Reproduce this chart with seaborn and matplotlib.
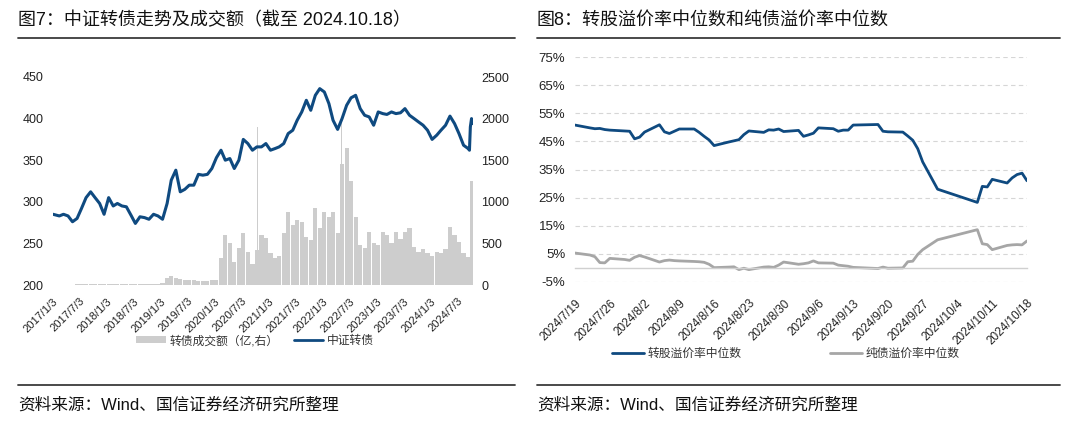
import numpy as np
import pandas as pd
import matplotlib
matplotlib.use("Agg")
import matplotlib.pyplot as plt
from matplotlib.lines import Line2D
from matplotlib.patches import Patch
import seaborn as sns

sns.set_theme(style="white")
plt.rcParams['font.family'] = ['Liberation Sans', 'Noto Sans CJK SC', 'DejaVu Sans']
plt.rcParams['axes.unicode_minus'] = False

BLUE = '#0f4a80'
GREY_LINE = '#a6a6a6'
GREY_BAR = '#cdcdcd'

# ---- 图7 data: 中证转债 (monthly readings, Jan 2017 - Sep 2024) ----
index_monthly = [
    285, 283, 285, 283, 276, 280, 292, 305, 312, 305, 298, 285,   # 2017
    305, 295, 298, 295, 294, 284, 274, 282, 281, 279, 285, 283,   # 2018
    279, 298, 326, 338, 312, 315, 320, 320, 333, 332, 333, 340,   # 2019
    353, 362, 350, 352, 340, 350, 375, 370, 362, 366, 366, 370,   # 2020
    362, 364, 366, 370, 382, 386, 398, 408, 422, 410, 428, 436,   # 2021
    432, 418, 398, 387, 400, 416, 425, 428, 412, 404, 402, 392,   # 2022
    408, 406, 405, 408, 406, 407, 412, 404, 400, 396, 392, 386,   # 2023
    375, 380, 386, 392, 403, 394, 382, 368, 364,                  # 2024
]
recent_dates = ['2024-09-24', '2024-09-30', '2024-10-08', '2024-10-18']
recent_index = [362, 390, 400, 394]

# 转债成交额 (亿), monthly readings Jan 2017 - Oct 2024
volume_monthly = [
    6, 6, 6, 6, 6, 8, 8, 10, 10, 12, 15, 18,
    18, 15, 15, 12, 12, 12, 10, 10, 10, 12, 15, 15,
    20, 80, 110, 85, 70, 55, 55, 60, 50, 45, 50, 60,
    60, 330, 600, 500, 280, 450, 620, 400, 250, 420, 600, 560,
    380, 320, 350, 620, 880, 720, 780, 760, 580, 540, 920, 680,
    880, 820, 880, 620, 1450, 1650, 1250, 820, 480, 440, 640, 500,
    480, 640, 600, 500, 640, 550, 640, 680, 460, 400, 430, 390,
    350, 400, 390, 430, 700, 600, 520, 380, 340, 1250,
]
spike_dates = ['2020-10-20', '2022-05-10']
spike_values = [1900, 2000]

# ---- 图8 data ----
holidays = ['2024-09-16', '2024-09-17', '2024-10-01', '2024-10-02', '2024-10-03',
            '2024-10-04', '2024-10-07']
conv_premium = [
    50.8, 49.8, 49.5, 49.6, 49.2, 49.0, 48.7, 48.6, 45.9,
    46.5, 48.3, 50.9, 48.4, 47.8, 48.6, 49.4, 49.4, 48.2, 46.8, 45.5, 43.5,
    44.8, 45.2, 45.6, 47.4, 48.7, 48.2, 49.1, 49.0, 49.4, 48.5,
    48.9, 46.8, 47.3, 47.9, 49.8, 49.5, 48.6, 49.0, 49.0, 50.8,
    51.0, 48.6, 48.4, 48.3, 46.9, 45.4, 42.4, 37.7, 28.0,
    23.3, 29.0, 28.8, 31.5, 30.2, 32.0, 33.2, 33.7, 31.0,
]
bond_premium = [
    5.3, 4.6, 4.0, 1.9, 1.8, 3.4, 3.0, 2.7, 3.8,
    4.4, 3.9, 2.1, 2.6, 2.8, 2.6, 2.5, 2.3, 2.2, 2.0, 1.3, 0.1,
    0.3, 0.4, -0.6, -0.1, -0.6, 0.3, 0.4, 0.2, 1.0, 2.1,
    1.3, 1.5, 1.8, 2.5, 1.8, 1.7, 1.0, 0.8, 0.6, 0.2,
    -0.2, 0.3, -0.1, 0.0, 2.2, 2.4, 4.8, 6.5, 10.0,
    13.6, 8.6, 8.3, 6.5, 8.0, 8.2, 8.3, 8.2, 9.6,
]

# ---- frames ----
months = pd.date_range('2017-01-01', periods=len(index_monthly), freq='MS') + pd.Timedelta(days=14)
idx_dates = list(months)
idx_dates[0] = pd.Timestamp('2017-01-03')
idx_df = pd.DataFrame({
    'date': idx_dates + list(pd.to_datetime(recent_dates)),
    'value': index_monthly + recent_index,
})
vol_df = pd.DataFrame({
    'date': pd.date_range('2017-01-01', periods=len(volume_monthly), freq='MS') + pd.Timedelta(days=14),
    'value': volume_monthly,
})
days = pd.bdate_range('2024-07-19', '2024-10-18')
days = days[~days.isin(pd.to_datetime(holidays))]
prem_df = pd.DataFrame({'date': days, 'conv': conv_premium, 'bond': bond_premium})

W, H = 1080, 436
fig = plt.figure(figsize=(W / 100, H / 100), dpi=100)

# ---------------- left chart ----------------
ax = fig.add_axes([53 / W, 1 - 285 / H, 420 / W, 208 / H])
sns.lineplot(data=idx_df, x='date', y='value', ax=ax, color=BLUE, linewidth=2.2)
ax2 = ax.twinx()
ax2.bar(vol_df['date'], vol_df['value'], width=28, color=GREY_BAR, linewidth=0)
ax2.bar(pd.to_datetime(spike_dates), spike_values, width=3, color=GREY_BAR, linewidth=0)
ax.set_zorder(ax2.get_zorder() + 1)
ax.patch.set_visible(False)

ax.set_ylim(200, 450)
ax.set_yticks(range(200, 451, 50))
ax2.set_ylim(0, 2500)
ax2.set_yticks(range(0, 2501, 500))
ax.set_xlim(pd.Timestamp('2017-01-03'), pd.Timestamp('2024-10-18'))
left_ticks = [pd.Timestamp(y, m, 3) for y in range(2017, 2025) for m in (1, 7)]
ax.set_xticks(left_ticks)
ax.set_xticklabels([f"{d.year}/{d.month}/{d.day}" for d in left_ticks],
                   rotation=45, ha='right', rotation_mode='anchor', fontsize=8)
ax.set_xlabel('')
ax.set_ylabel('')
ax2.set_ylabel('')
for a in (ax, ax2):
    for s in a.spines.values():
        s.set_visible(False)
ax.tick_params(axis='x', length=0, pad=8, colors='#222222')
ax.tick_params(axis='y', length=0, pad=7, labelsize=9, colors='#222222')
ax2.tick_params(axis='y', length=0, pad=6, labelsize=9, colors='#222222')

fig.legend(handles=[Patch(facecolor=GREY_BAR, edgecolor='none'),
                    Line2D([], [], color=BLUE, lw=2)],
           labels=['转债成交额（亿,右）', '中证转债'],
           loc='center', bbox_to_anchor=(255 / W, 1 - 341 / H), ncol=2, frameon=False,
           fontsize=8.5, handlelength=2.5, handleheight=0.5, columnspacing=1.3,
           handletextpad=0.3, labelcolor='#333333')

# ---------------- right chart ----------------
axr = fig.add_axes([575 / W, 1 - 282 / H, 452 / W, 225 / H])
sns.lineplot(data=prem_df, x='date', y='conv', ax=axr, color=BLUE, linewidth=2)
sns.lineplot(data=prem_df, x='date', y='bond', ax=axr, color=GREY_LINE, linewidth=2)
# move the x axis to 0% first (this resets the tick objects)
for k in ('left', 'right', 'top'):
    axr.spines[k].set_visible(False)
axr.spines['bottom'].set_position(('data', 0))
axr.spines['bottom'].set_color('#d0d0d0')
axr.spines['bottom'].set_linewidth(1)

axr.set_ylim(-5, 75)
yt = np.arange(-5, 76, 10)
axr.set_yticks(yt)
axr.set_yticklabels([f"{v:.0f}%" for v in yt], fontsize=9.5)
axr.yaxis.grid(True, linestyle=(0, (4, 3)), color='#d6d6d6', linewidth=0.8)
axr.xaxis.grid(False)
axr.set_xlim(days[0], days[-1])
week_ticks = pd.date_range('2024-07-19', '2024-10-18', freq='7D')
axr.set_xticks(week_ticks)
axr.set_xticklabels([f"{d.year}/{d.month}/{d.day}" for d in week_ticks],
                    rotation=45, ha='right', rotation_mode='anchor', fontsize=8.5)
axr.tick_params(axis='x', length=4, width=0.8, color='#d0d0d0', pad=17, labelcolor='#222222')
axr.tick_params(axis='y', length=0, pad=7, labelcolor='#222222')
axr.set_xlabel('')
axr.set_ylabel('')

fig.legend(handles=[Line2D([], [], color=BLUE, lw=2), Line2D([], [], color=GREY_LINE, lw=2)],
           labels=['转股溢价率中位数', '纯债溢价率中位数'],
           loc='center', bbox_to_anchor=(786 / W, 1 - 354 / H), ncol=2, frameon=False,
           fontsize=8.5, handlelength=2.7, columnspacing=7.5, handletextpad=0.3,
           labelcolor='#333333')

# ---------------- titles, rules, sources ----------------
fig.text(18 / W, 1 - 20 / H, '图7：中证转债走势及成交额（截至 2024.10.18）',
         fontsize=13, va='center', ha='left', color='#111111')
fig.text(537 / W, 1 - 20 / H, '图8：转股溢价率中位数和纯债溢价率中位数',
         fontsize=13, va='center', ha='left', color='#111111')
for x0, x1 in ((18, 515), (537, 1060)):
    for yy in (38, 385):
        fig.add_artist(Line2D([x0 / W, x1 / W], [1 - yy / H] * 2, transform=fig.transFigure,
                              color='#3a3a3a', lw=1.3))
fig.text(18 / W, 1 - 405 / H, '资料来源：Wind、国信证券经济研究所整理',
         fontsize=12, va='center', ha='left', color='#111111')
fig.text(537 / W, 1 - 405 / H, '资料来源：Wind、国信证券经济研究所整理',
         fontsize=12, va='center', ha='left', color='#111111')

fig.savefig('out.png', dpi=100)
